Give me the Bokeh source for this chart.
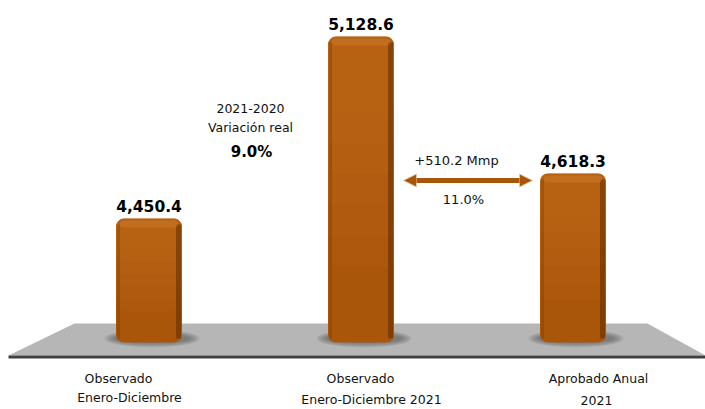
from bokeh.plotting import figure
from bokeh.models import Range1d, Arrow, NormalHead, ColumnDataSource
from bokeh.core.properties import value
from bokeh.embed import file_html
from bokeh.resources import INLINE

# ---- data ----
categories = ["Observado Enero-Diciembre", "Observado Enero-Diciembre 2021", "Aprobado Anual 2021"]
cat_line1 = ["Observado", "Observado", "Aprobado Anual"]
cat_line2 = ["Enero-Diciembre", "Enero-Diciembre 2021", "2021"]
values = [4450.4, 5128.6, 4618.3]
value_labels = ["4,450.4", "5,128.6", "4,618.3"]
var_title = ["2021-2020", "Variación real"]
var_pct = "9.0%"
diff_label = "+510.2 Mmp"
diff_pct = "11.0%"

W, H = 705, 409
Y0, Y1 = 3739.0, 5263.0
X0, X1 = -148.5 / 212.0, (705 - 148.5) / 212.0

def px_x(px):
    return X0 + px * (X1 - X0) / W

def px_y(py):
    return Y1 - py * (Y1 - Y0) / H

PY = (Y1 - Y0) / H  # data units per pixel (y)

p = figure(width=W, height=H, output_backend="svg", toolbar_location=None,
           x_range=Range1d(X0, X1), y_range=Range1d(Y0, Y1), min_border=0,
           outline_line_color=None, background_fill_color="white")
p.axis.visible = False
p.grid.visible = False

font = value("DejaVu Sans")
xs = list(range(len(categories)))
base = px_y(342)
bw = 66 / 212.0

# floor
p.patch([px_x(74), px_x(647), px_x(705), px_x(8)],
        [px_y(323), px_y(323), px_y(355), px_y(355)],
        fill_color="#b6b6b6", line_color=None)
p.line([px_x(8), px_x(705)], [px_y(356.5), px_y(356.5)], line_color="#3f3f3f", line_width=3)

# soft shadows under bars
for k in range(8):
    wmul = 1.45 - 0.045 * k
    hpx = 18 - 1.3 * k
    p.ellipse(x=[x + 3 / 212 for x in xs], y=[px_y(338)] * 3, width=bw * wmul, height=hpx * PY,
              fill_color="#4a4a4a", fill_alpha=0.09, line_color=None)

# bars
src = ColumnDataSource(dict(x=xs, top=values, bottom=[base] * 3))
p.vbar(x="x", top="top", bottom="bottom", width=bw, source=src,
       fill_color="#aa560a", line_color=None, border_radius=8)
# vertical lightening toward top
for i in range(6):
    bots = [v - (v - base) * (0.75 - 0.1 * i) for v in values]
    p.vbar(x=xs, top=values, bottom=bots, width=bw, fill_color="#d27d2c",
           fill_alpha=0.07, line_color=None, border_radius=8)
# right dark edge
p.vbar(x=[x + bw / 2 - 3.5 / 212 for x in xs], top=[v - 6 * PY for v in values],
       bottom=[base + 4 * PY] * 3, width=5 / 212, fill_color="#5e2c00",
       fill_alpha=0.55, line_color=None)
# left soft edge
p.vbar(x=[x - bw / 2 + 2.5 / 212 for x in xs], top=[v - 6 * PY for v in values],
       bottom=[base + 4 * PY] * 3, width=3 / 212, fill_color="#7a3a00",
       fill_alpha=0.35, line_color=None)
# top cap highlight
p.vbar(x=xs, top=[v - 2 * PY for v in values],
       bottom=[v - 9 * PY for v in values], width=bw - 8 / 212,
       fill_color="#d88838", fill_alpha=0.35, line_color=None, border_radius=5)

# value labels
p.text(x=xs, y=[v + 7 * PY for v in values], text=value_labels,
       text_font=font, text_font_style="bold", text_font_size="15.5px",
       text_align="center", text_baseline="bottom", text_color="#000000")

# category labels
l1x = [px_x(118), px_x(360), px_x(598)]
l2x = [px_x(129), px_x(371), px_x(596)]
l2y = [px_y(397), px_y(399), px_y(400)]
p.text(x=l1x, y=[px_y(378)] * 3, text=cat_line1, text_font=font, text_font_size="12.5px",
       text_align="center", text_baseline="middle", text_color="#111111")
p.text(x=l2x, y=l2y, text=cat_line2, text_font=font, text_font_size="12.5px",
       text_align="center", text_baseline="middle", text_color="#111111")

# variation annotation
p.text(x=[px_x(250), px_x(250)], y=[px_y(108), px_y(127)], text=var_title, text_font=font,
       text_font_size="12.5px", text_align="center", text_baseline="middle", text_color="#111111")
p.text(x=[px_x(251)], y=[px_y(151)], text=[var_pct], text_font=font, text_font_style="bold",
       text_font_size="15px", text_align="center", text_baseline="middle", text_color="#000000")

# difference arrow
p.add_layout(Arrow(x_start=px_x(403), y_start=px_y(180), x_end=px_x(532), y_end=px_y(180),
                   line_color="#a8560a", line_width=5,
                   start=NormalHead(size=13, fill_color="#a8560a", line_color="#d8c8a8", line_width=1),
                   end=NormalHead(size=13, fill_color="#a8560a", line_color="#d8c8a8", line_width=1)))
p.text(x=[px_x(456)], y=[px_y(160)], text=[diff_label], text_font=font, text_font_size="13px",
       text_align="center", text_baseline="middle", text_color="#111111")
p.text(x=[px_x(463)], y=[px_y(199)], text=[diff_pct], text_font=font, text_font_size="13px",
       text_align="center", text_baseline="middle", text_color="#111111")

open("out.html", "w").write(file_html(p, INLINE))
